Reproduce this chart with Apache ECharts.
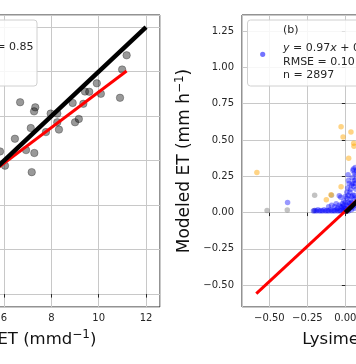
<!DOCTYPE html>
<html>
<head>
<meta charset="utf-8">
<script src="https://cdn.jsdelivr.net/npm/echarts@6/dist/echarts.min.js"></script>
<style>
html,body{margin:0;padding:0;background:#fff;overflow:hidden;width:356px;height:364px;position:relative;}
#c{position:absolute;left:-160px;top:0;width:716px;height:364px;}
</style>
</head>
<body>
<div id="c"></div>
<script>
// ---- data ----
// Panel (a): daily ET, [lysimeter, modeled] in mm/d
const dailyPoints = [
  [11.18,10.73],[10.99,10.09],[9.92,9.47],[9.42,9.10],[9.60,9.09],[10.09,9.00],
  [10.90,8.82],[6.68,8.62],[8.90,8.59],[9.35,8.55],[7.32,8.39],[7.27,8.21],
  [7.97,8.11],[8.25,8.11],[9.16,7.87],[9.00,7.72],[8.25,7.72],[7.13,7.46],
  [8.32,7.39],[7.77,7.28],[6.46,6.98],[6.93,6.47],[7.28,6.34],[5.83,6.41],
  [6.04,5.77],[7.17,5.48]
];
const dailyFit = [0.80, 1.08];          // slope, intercept
const dailyFitRange = [0.5, 11.18];
const dailyOneToOne = [0, 12];
const dailyLegendText = 'R² = 0.85';

// Panel (b): hourly ET, [lysimeter, modeled] in mm/h
const hourlyBlue = [
  [-0.38,0.07],
  [-0.21,0.01],[-0.20,0.015],[-0.19,0.01],[-0.18,0.02],[-0.17,0.01],[-0.16,0.015],
  [-0.15,0.01],[-0.14,0.02],[-0.13,0.01],[-0.12,0.015],[-0.11,0.01],[-0.10,0.02],
  [-0.09,0.01],[-0.08,0.015],[-0.07,0.01],[-0.06,0.02],[-0.05,0.01],[-0.04,0.015],
  [-0.03,0.01],[-0.02,0.02],[-0.01,0.01],[0.0,0.015],[0.01,0.02],[0.02,0.01],
  [0.03,0.03],[0.04,0.02],[0.05,0.04],[0.06,0.03],[0.07,0.05],
  [-0.11,0.04],[-0.09,0.05],[-0.07,0.04],[-0.06,0.06],[-0.05,0.03],[-0.04,0.05],
  [-0.03,0.04],[-0.02,0.06],[-0.01,0.03],[-0.03,0.105],[-0.04,0.115],[-0.01,0.08],
  [0.0,0.07],[0.01,0.10],[0.015,0.17],[0.02,0.22],[0.018,0.26],[0.05,0.29],
  [0.03,0.14],[0.04,0.19],[0.05,0.12],[0.06,0.22],[0.07,0.16],[0.06,0.09],
  [0.07,0.26],[0.03,0.06],[0.05,0.20],[0.02,0.12],[0.065,0.31],[0.053,0.30],
  [0.0,0.03],[0.01,0.05],[0.02,0.04],[0.03,0.09],[0.04,0.07],[0.05,0.06],
  [0.06,0.12],[0.07,0.10],[0.04,0.11],[0.035,0.16],[0.045,0.24],[0.055,0.18],
  [0.065,0.20],[0.07,0.23],[0.025,0.20],[0.06,0.27],[0.075,0.29],[0.01,0.14],
  [0.0,0.11],[-0.01,0.05],[-0.02,0.04],[0.02,0.07]
];
const hourlyOrange = [
  [-0.028,0.59],[0.037,0.555],[-0.015,0.52],[0.055,0.477],[0.057,0.457],
  [0.022,0.374],[-0.582,0.275],[-0.028,0.177],[-0.094,0.122],[-0.125,0.089]
];
const hourlyGray = [
  [-0.515,0.014],[-0.382,0.017],[-0.202,0.12],[-0.091,0.12],[-0.205,0.015]
];
const hourlyFit = [0.97, 0.01];
const hourlyFitRange = [-0.586, 1.2];
const hourlyOneToOne = [0, 1.2];
const hourlyLegendLines = ['(b)', 'RMSE = 0.10', 'n = 2897'];

// ---- build ----
const OX = 160; // chart canvas is shifted left by this many pixels
function fitLine(fit, range){ return range.map(x => [x, fit[0]*x + fit[1]]); }
function oneToOne(range){ return range.map(v => [v, v]); }

const FONT = 'DejaVu Sans';
const TXT = '#262626';
const gridLine = {show:true, lineStyle:{color:'#c8c8c8', width:1}};
const tick = {show:true, inside:false, length:3.5, lineStyle:{color:TXT, width:1}};
const fmt2 = v => v.toFixed(2).replace('-', '\u2212');
const fmt0 = v => String(Math.round(v)).replace('-', '\u2212');
function nameStyle(size, pad){
  return {fontFamily:FONT, fontSize:size, color:'#111', lineHeight:22, padding:pad,
    rich:{s:{fontFamily:FONT, fontSize:12, lineHeight:12, verticalAlign:'top', color:'#111'}}};
}

const chart = echarts.init(document.getElementById('c'), null, {renderer:'canvas'});
const option = {
  animation:false,
  backgroundColor:'#fff',
  grid:[
    {left:-151.7+OX, width:311.7, top:15, height:292, outerBoundsMode:'none', containLabel:false,
     show:true, borderColor:TXT, borderWidth:1, backgroundColor:'transparent'},
    {left:242+OX, width:310, top:15, height:292, outerBoundsMode:'none', containLabel:false,
     show:true, borderColor:TXT, borderWidth:1, backgroundColor:'transparent'}
  ],
  xAxis:[
    {gridIndex:0, type:'value', min:-0.58, max:12.59, minInterval:2, maxInterval:2,
     axisLine:{show:false}, axisTick:tick, splitLine:gridLine,
     axisLabel:{fontFamily:FONT, fontSize:10, color:TXT, margin:6, formatter:fmt0, showMinLabel:false, showMaxLabel:false},
     name:'Lysimeter ET (mmd{s|\u22121})', nameLocation:'middle', nameGap:22, nameTextStyle:nameStyle(16.5,[0,0,0,0])},
    {gridIndex:1, type:'value', min:-0.68, max:1.36, minInterval:0.25, maxInterval:0.25,
     axisLine:{show:false}, axisTick:tick, splitLine:gridLine,
     axisLabel:{fontFamily:FONT, fontSize:10, color:TXT, margin:6, formatter:fmt2, showMinLabel:false, showMaxLabel:false},
     name:'Lysimeter ET (mm h{s|\u22121})', nameLocation:'middle', nameGap:22, nameTextStyle:nameStyle(16.5,[0,0,0,0])}
  ],
  yAxis:[
    {gridIndex:0, type:'value', min:-0.58, max:12.54, minInterval:2, maxInterval:2,
     axisLine:{show:false}, axisTick:tick, splitLine:gridLine,
     axisLabel:{fontFamily:FONT, fontSize:10, color:TXT, margin:8, formatter:fmt0, showMinLabel:false, showMaxLabel:false}},
    {gridIndex:1, type:'value', min:-0.65, max:1.36, minInterval:0.25, maxInterval:0.25,
     axisLine:{show:false}, axisTick:tick, splitLine:gridLine,
     axisLabel:{fontFamily:FONT, fontSize:10, color:TXT, margin:8, formatter:fmt2, showMinLabel:false, showMaxLabel:false},
     name:'Modeled ET (mm h{s|\u22121})', nameLocation:'middle', nameGap:46, nameRotate:90, nameTextStyle:nameStyle(17,[0,0,0,0])}
  ],
  series:[
    {type:'scatter', xAxisIndex:0, yAxisIndex:0, data:dailyPoints, symbolSize:7.5,
     itemStyle:{color:'rgba(0,0,0,0.5)', borderColor:'rgba(0,0,0,0.35)', borderWidth:1}, z:2},
    {type:'line', xAxisIndex:0, yAxisIndex:0, data:fitLine(dailyFit, dailyFitRange), showSymbol:false,
     lineStyle:{color:'#ff0000', width:3}, z:3, clip:true},
    {type:'line', xAxisIndex:0, yAxisIndex:0, data:oneToOne(dailyOneToOne), showSymbol:false,
     lineStyle:{color:'#000', width:4.5}, z:4, clip:true},

    {type:'scatter', xAxisIndex:1, yAxisIndex:1, data:hourlyGray, symbolSize:5.5,
     itemStyle:{color:'rgba(128,128,128,0.6)'}, z:2},
    {type:'scatter', xAxisIndex:1, yAxisIndex:1, data:hourlyOrange, symbolSize:5.5,
     itemStyle:{color:'rgba(255,165,0,0.6)'}, z:2},
    {type:'scatter', xAxisIndex:1, yAxisIndex:1, data:hourlyBlue, symbolSize:5.5,
     itemStyle:{color:'rgba(0,0,255,0.5)'}, z:2},
    {type:'line', xAxisIndex:1, yAxisIndex:1, data:fitLine(hourlyFit, hourlyFitRange), showSymbol:false,
     lineStyle:{color:'#ff0000', width:3}, z:3, clip:true},
    {type:'line', xAxisIndex:1, yAxisIndex:1, data:oneToOne(hourlyOneToOne), showSymbol:false,
     lineStyle:{color:'#000', width:4.5}, z:4, clip:true}
  ],
  graphic:[
    // legend (a)
    {type:'rect', z:100, shape:{x:-60+OX, y:20, width:97, height:66, r:3},
     style:{fill:'rgba(255,255,255,0.85)', stroke:'#d0d0d0', lineWidth:1}},
    {type:'text', z:101, style:{text:dailyLegendText, x:33.5+OX, y:47, textAlign:'right', textVerticalAlign:'middle',
     font:'11px "DejaVu Sans"', fill:TXT}},
    // legend (b)
    {type:'rect', z:100, shape:{x:247.5+OX, y:20, width:160, height:66, r:3},
     style:{fill:'rgba(255,255,255,0.85)', stroke:'#d0d0d0', lineWidth:1}},
    {type:'circle', z:101, shape:{cx:262.7+OX, cy:54.3, r:2.6}, style:{fill:'rgba(0,0,255,0.55)'}},
    {type:'text', z:101, style:{text:hourlyLegendLines[0], x:283+OX, y:30, textVerticalAlign:'middle', font:'11px "DejaVu Sans"', fill:TXT}},
    {type:'text', z:101, style:{text:'{i|y} = ' + hourlyFit[0].toFixed(2) + '{i|x} + ' + hourlyFit[1].toFixed(2),
      x:283+OX, y:48, textVerticalAlign:'middle', font:'11px "DejaVu Sans"', fill:TXT,
      rich:{i:{fontFamily:FONT, fontSize:11, fontStyle:'italic', fill:TXT}}}},
    {type:'text', z:101, style:{text:hourlyLegendLines[1], x:283+OX, y:62, textVerticalAlign:'middle', font:'11px "DejaVu Sans"', fill:TXT}},
    {type:'text', z:101, style:{text:hourlyLegendLines[2], x:283+OX, y:75, textVerticalAlign:'middle', font:'11px "DejaVu Sans"', fill:TXT}}
  ]
};
chart.setOption(option);
</script>
</body>
</html>
